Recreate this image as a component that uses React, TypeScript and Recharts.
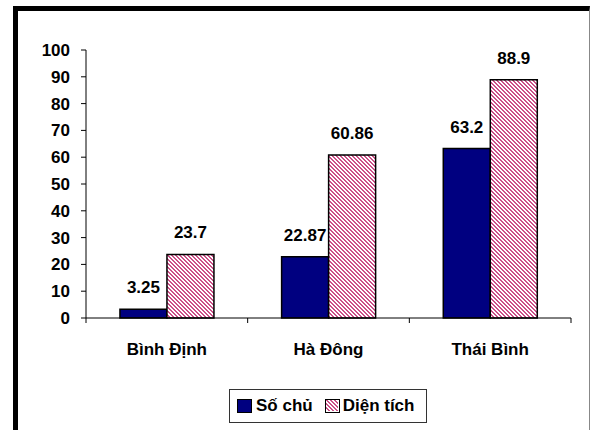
import React from "react";
import { BarChart, Bar, XAxis, YAxis, Legend, LabelList } from "recharts";

const categories = ["Bình Định", "Hà Đông", "Thái Bình"];
const soChu = [3.25, 22.87, 63.2];
const dienTich = [23.7, 60.86, 88.9];
const yTicks = [0, 10, 20, 30, 40, 50, 60, 70, 80, 90, 100];
const seriesNames = ["Số chủ", "Diện tích"];

const data = categories.map((c, i) => ({ name: c, soChu: soChu[i], dienTich: dienTich[i] }));

const FONT = "'Liberation Sans', Arial, sans-serif";
const BLUE = "#000080";
const PINK = "#cc4f88";

const CategoryTick = (props: any) => {
  const { x, y, payload, index, visibleTicksCount } = props;
  const off = payload && typeof payload.offset === "number" && payload.offset > 0 ? payload.offset : 80.83;
  const last = index === (visibleTicksCount ?? categories.length) - 1;
  return (
    <g>
      <line x1={x - off} y1={y - 5} x2={x - off} y2={y} stroke="#000" strokeWidth={1} />
      {last && <line x1={x + off} y1={y - 5} x2={x + off} y2={y} stroke="#000" strokeWidth={1} />}
      <text x={x} y={y + 32} textAnchor="middle" fontFamily={FONT} fontWeight="bold" fontSize={17} fill="#000">
        {payload.value}
      </text>
    </g>
  );
};

const LegendBox = () => (
  <div
    style={{
      boxSizing: "border-box",
      width: 198,
      height: 34,
      border: "1px solid #333",
      display: "flex",
      alignItems: "center",
      paddingLeft: 7,
      fontFamily: FONT,
      fontWeight: "bold",
      fontSize: 17,
      color: "#000",
      background: "#fff",
    }}
  >
    <span style={{ display: "inline-block", boxSizing: "border-box", width: 15, height: 14, background: BLUE, border: "1.5px solid #000", marginRight: 4 }} />
    <span style={{ marginRight: 12 }}>{seriesNames[0]}</span>
    <span style={{ display: "inline-block", boxSizing: "border-box", width: 15, height: 14, background: "url(#pinkHatch)", border: "1.5px solid #000", marginRight: 3, position: "relative", overflow: "hidden" }}>
      <svg width={12} height={11} style={{ position: "absolute", left: 0, top: 0 }}>
        <rect width={12} height={11} fill="url(#pinkHatch)" />
      </svg>
    </span>
    <span>{seriesNames[1]}</span>
  </div>
);

export default function App() {
  return (
    <div style={{ position: "absolute", left: 0, top: 0, width: 592, height: 430, overflow: "hidden", background: "#fff" }}>
      <svg width={0} height={0} style={{ position: "absolute" }}>
        <defs>
          <pattern id="pinkHatch" patternUnits="userSpaceOnUse" width={4} height={4}>
            <rect width={4} height={4} fill="#fff" />
            <rect x={0} y={0} width={2} height={1} fill={PINK} />
            <rect x={1} y={1} width={2} height={1} fill={PINK} />
            <rect x={2} y={2} width={2} height={1} fill={PINK} />
            <rect x={3} y={3} width={1} height={1} fill={PINK} />
            <rect x={0} y={3} width={1} height={1} fill={PINK} />
          </pattern>
        </defs>
      </svg>
      <div
        style={{
          position: "absolute",
          left: 13,
          top: 6,
          width: 577,
          height: 424,
          boxSizing: "border-box",
          borderLeft: "5px solid #000",
          borderTop: "5px solid #000",
          borderRight: "1px solid #888",
        }}
      />
      <div style={{ position: "absolute", left: 0, top: 0 }}>
        <BarChart
          width={592}
          height={430}
          data={data}
          margin={{ top: 50, right: 21, bottom: 7, left: 0 }}
          barGap={0}
          barCategoryGap="21%"
        >
          <XAxis
            dataKey="name"
            axisLine={{ stroke: "#000", strokeWidth: 1 }}
            tickLine={false}
            tickSize={5}
            tickMargin={0}
            height={71}
            interval={0}
            tick={<CategoryTick />}
          />
          <YAxis
            domain={[0, 100]}
            ticks={yTicks}
            interval={0}
            width={86}
            axisLine={{ stroke: "#000", strokeWidth: 1 }}
            tickLine={{ stroke: "#000", strokeWidth: 1 }}
            tickSize={5}
            tickMargin={11}
            tick={{ fontFamily: FONT, fontWeight: "bold", fontSize: 17, fill: "#000" }}
          />
          <Legend
            verticalAlign="bottom"
            height={34}
            wrapperStyle={{ left: 229, width: 198 }}
            content={() => <LegendBox />}
          />
          <Bar dataKey="soChu" name={seriesNames[0]} fill={BLUE} stroke="#000" strokeWidth={1.5} isAnimationActive={false}>
            <LabelList dataKey="soChu" position="top" offset={16} style={{ fontFamily: FONT, fontWeight: "bold", fontSize: 17, fill: "#000" }} />
          </Bar>
          <Bar dataKey="dienTich" name={seriesNames[1]} fill="url(#pinkHatch)" stroke="#000" strokeWidth={1.5} isAnimationActive={false}>
            <LabelList dataKey="dienTich" position="top" offset={16} style={{ fontFamily: FONT, fontWeight: "bold", fontSize: 17, fill: "#000" }} />
          </Bar>
        </BarChart>
      </div>
    </div>
  );
}
